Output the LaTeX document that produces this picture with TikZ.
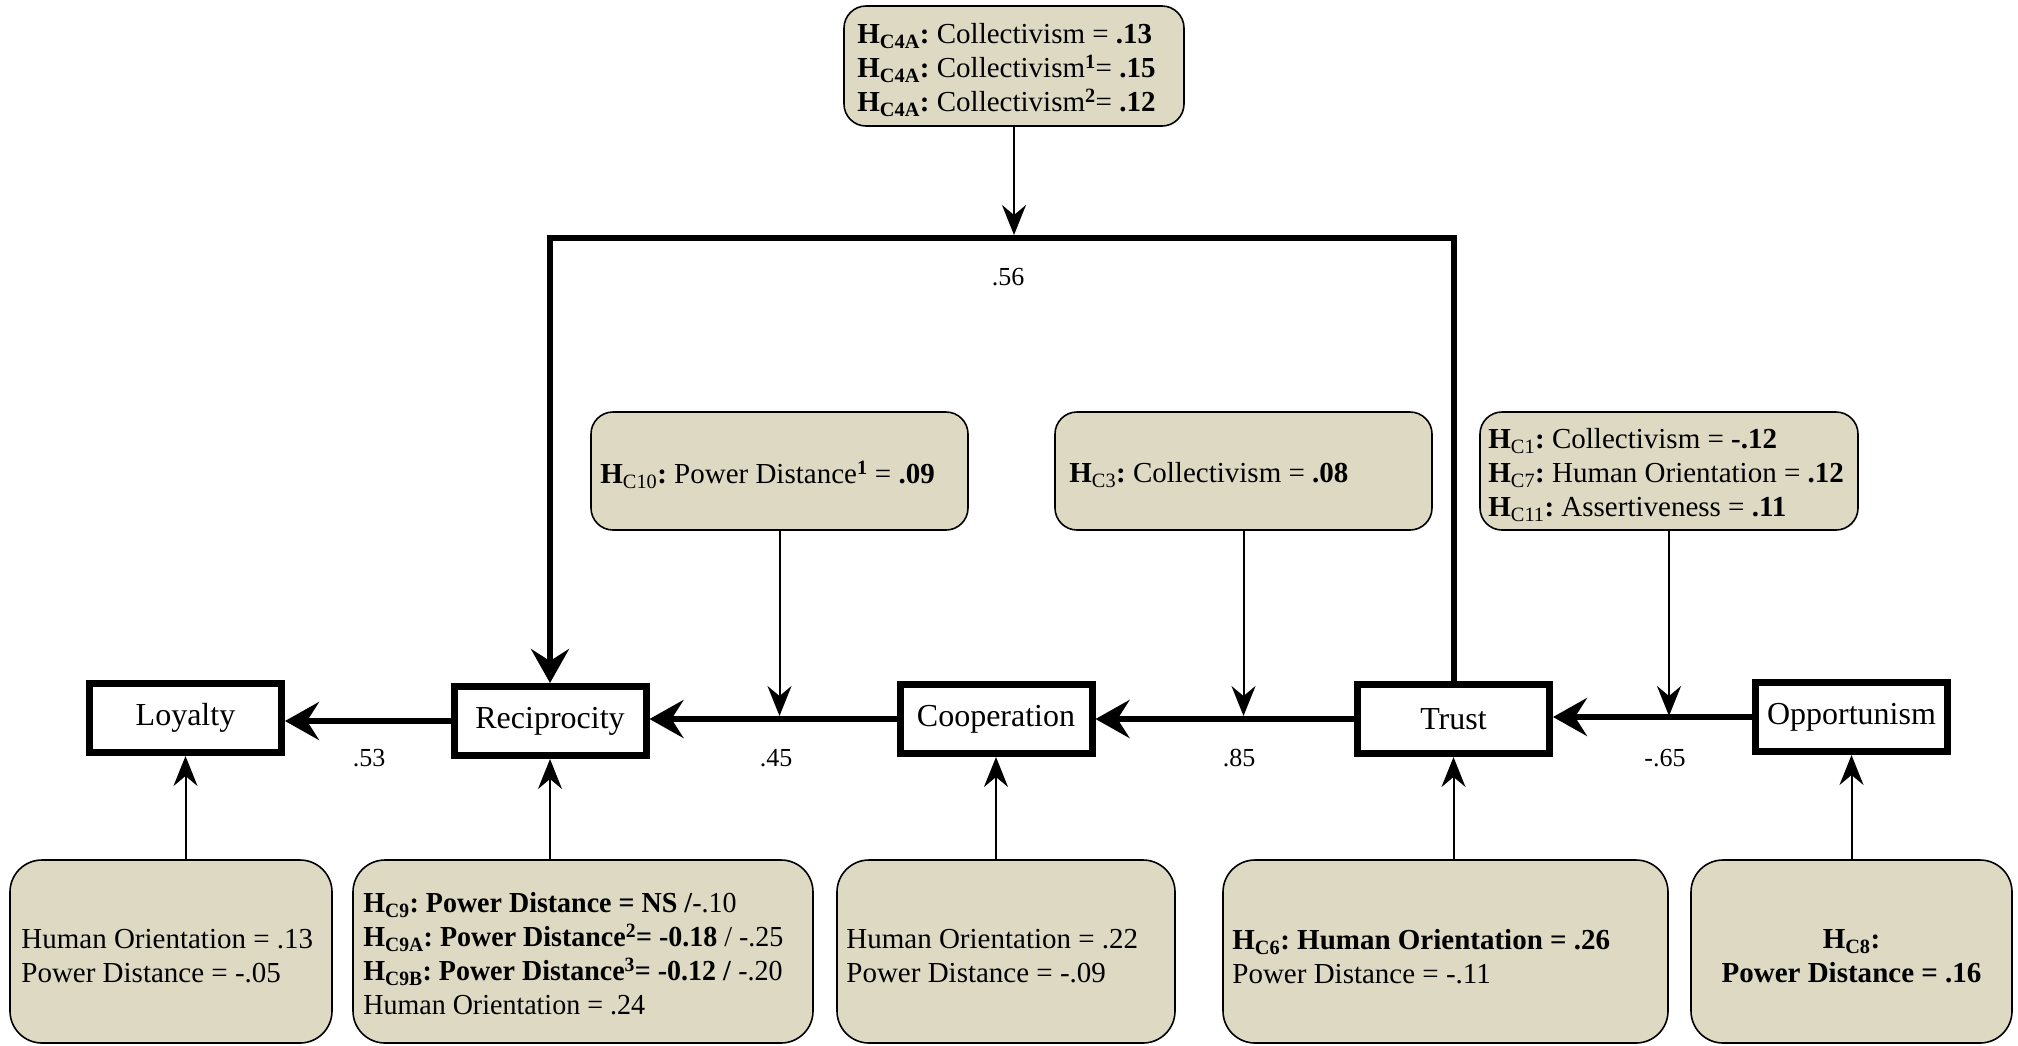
\documentclass[tikz,border=0pt]{standalone}
\usepackage{fontspec}
\setmainfont{Liberation Serif}
\usetikzlibrary{arrows.meta}
\definecolor{boxfill}{RGB}{221,217,195}
\frenchspacing
\begin{document}
\begin{tikzpicture}[x=1pt,y=-1pt,
  every node/.style={font=\fontsize{29}{34}\selectfont},
  mainbox/.style={draw, line width=7pt, minimum width=192pt, minimum height=69pt, inner sep=0pt, font=\fontsize{32}{36}\selectfont},
  modbox/.style={draw, line width=1.6pt, fill=boxfill, rounded corners=22pt, inner sep=0pt},
  botbox/.style={modbox, rounded corners=32pt, minimum height=183pt},
  txt/.style={align=left, anchor=west, inner sep=0pt},
  lbl/.style={font=\fontsize{26}{30}\selectfont, inner sep=0pt},
  thickarr/.style={line width=6pt, line join=miter, -{Stealth[length=34pt,width=38pt,inset=12pt]}},
  thinarr/.style={line width=2pt, -{Stealth[length=30pt,width=24pt,inset=10pt]}}
]
\path[use as bounding box] (0,0) rectangle (2018,1045);

% main constructs
\node[mainbox] (loy) at (185.5,718) {Loyalty};
\node[mainbox] (rec) at (550,721) {Reciprocity};
\node[mainbox] (coo) at (996,719) {Cooperation};
\node[mainbox] (tru) at (1453.5,719) {Trust};
\node[mainbox] (opp) at (1851.5,717) {Opportunism};

% moderator boxes
\node[modbox, minimum width=340pt, minimum height=120pt] (top) at (1014,66) {};
\node[txt] (topt) at ([xshift=14pt,yshift=-4pt]top.west) {%
\textbf{H\textsubscript{C4A}:} Collectivism = \textbf{.13}\\
\textbf{H\textsubscript{C4A}:} Collectivism\textsuperscript{\textbf{1}}= \textbf{.15}\\
\textbf{H\textsubscript{C4A}:} Collectivism\textsuperscript{\textbf{2}}= \textbf{.12}};

\node[modbox, minimum width=377pt, minimum height=118pt] (m1) at (779.5,471) {};
\node[txt] (m1t) at ([xshift=10pt,yshift=-4pt]m1.west) {%
\textbf{H}\textsubscript{C10}\textbf{:} Power Distance\textsuperscript{\textbf{1}} = \textbf{.09}};
\node[modbox, minimum width=377pt, minimum height=118pt] (m2) at (1243.5,471) {};
\node[txt] (m2t) at ([xshift=15pt,yshift=-4pt]m2.west) {%
\textbf{H}\textsubscript{C3}\textbf{:} Collectivism = \textbf{.08}};
\node[modbox, minimum width=378pt, minimum height=118pt] (m3) at (1669,471) {};
\node[txt] (m3t) at ([xshift=9pt,yshift=-4pt]m3.west) {%
\textbf{H}\textsubscript{C1}\textbf{:} Collectivism = \textbf{-.12}\\
\textbf{H}\textsubscript{C7}\textbf{:} Human Orientation = \textbf{.12}\\
\textbf{H}\textsubscript{C11}\textbf{:} Assertiveness = \textbf{.11}};

% control boxes
\node[botbox, minimum width=322pt] (b1) at (171,951.5) {};
\node[txt] (b1t) at ([xshift=12pt,yshift=-5pt]b1.west) {%
Human Orientation = .13\\
Power Distance = -.05};
\node[botbox, minimum width=460pt] (b2) at (583,951.5) {};
\node[txt] (b2t) at ([xshift=11pt,yshift=-5pt]b2.west) {\scalebox{0.965}[1]{\begin{tabular}{@{}l@{}}
\textbf{H\textsubscript{C9}: Power Distance = NS /}-.10\\
\textbf{H\textsubscript{C9A}: Power Distance\textsuperscript{2}= -0.18} / -.25\\
\textbf{H\textsubscript{C9B}: Power Distance\textsuperscript{3}= -0.12 /} -.20\\
Human Orientation = .24\end{tabular}}};
\node[botbox, minimum width=338pt] (b3) at (1006,951.5) {};
\node[txt] (b3t) at ([xshift=10pt,yshift=-5pt]b3.west) {%
Human Orientation = .22\\
Power Distance = -.09};
\node[botbox, minimum width=445pt] (b4) at (1445.5,951.5) {};
\node[txt] (b4t) at ([xshift=10pt,yshift=-5pt]b4.west) {%
\textbf{H\textsubscript{C6}: Human Orientation = .26}\\
Power Distance = -.11};
\node[botbox, minimum width=321pt] (b5) at (1851.5,951.5) {};
\node[align=center, inner sep=0pt] (b5t) at ([yshift=-5pt]b5.center) {%
\textbf{H\textsubscript{C8}:}\\
\textbf{Power Distance = .16}};

% path labels
\node[lbl] (l56) at (1008,277) {.56};
\node[lbl] (l53) at (369,758) {.53};
\node[lbl] (l45) at (776,758) {.45};
\node[lbl] (l85) at (1239,758) {.85};
\node[lbl] (l65) at (1665,758) {-.65};

% helper coordinates
\coordinate (ytop) at (0,238);
\coordinate (ytopin) at (0,235);
\coordinate (ymid) at (0,716);

% structural paths (horizontal)
\draw[thickarr] (opp.west) -- (tru.east |- opp.west);
\draw[thickarr] (tru.west) -- (coo.east |- tru.west);
\draw[thickarr] (coo.west) -- (rec.east |- coo.west);
\draw[thickarr] (rec.west) -- (loy.east |- rec.west);
\draw[thickarr] (tru.north) -- (tru.north |- ytop) -- (rec.north |- ytop) -- (rec.north);

% moderating arrows
\draw[thinarr] (top.south) -- (top.south |- ytopin);
\draw[thinarr] (m1.south) -- (m1.south |- ymid);
\draw[thinarr] (m2.south) -- (m2.south |- ymid);
\draw[thinarr] (m3.south) -- (m3.south |- ymid);

% control arrows
\draw[thinarr] (loy |- b1.north) -- (loy.south);
\draw[thinarr] (rec |- b2.north) -- (rec.south);
\draw[thinarr] (coo |- b3.north) -- (coo.south);
\draw[thinarr] (tru |- b4.north) -- (tru.south);
\draw[thinarr] (opp |- b5.north) -- (opp.south);
\end{tikzpicture}
\end{document}
